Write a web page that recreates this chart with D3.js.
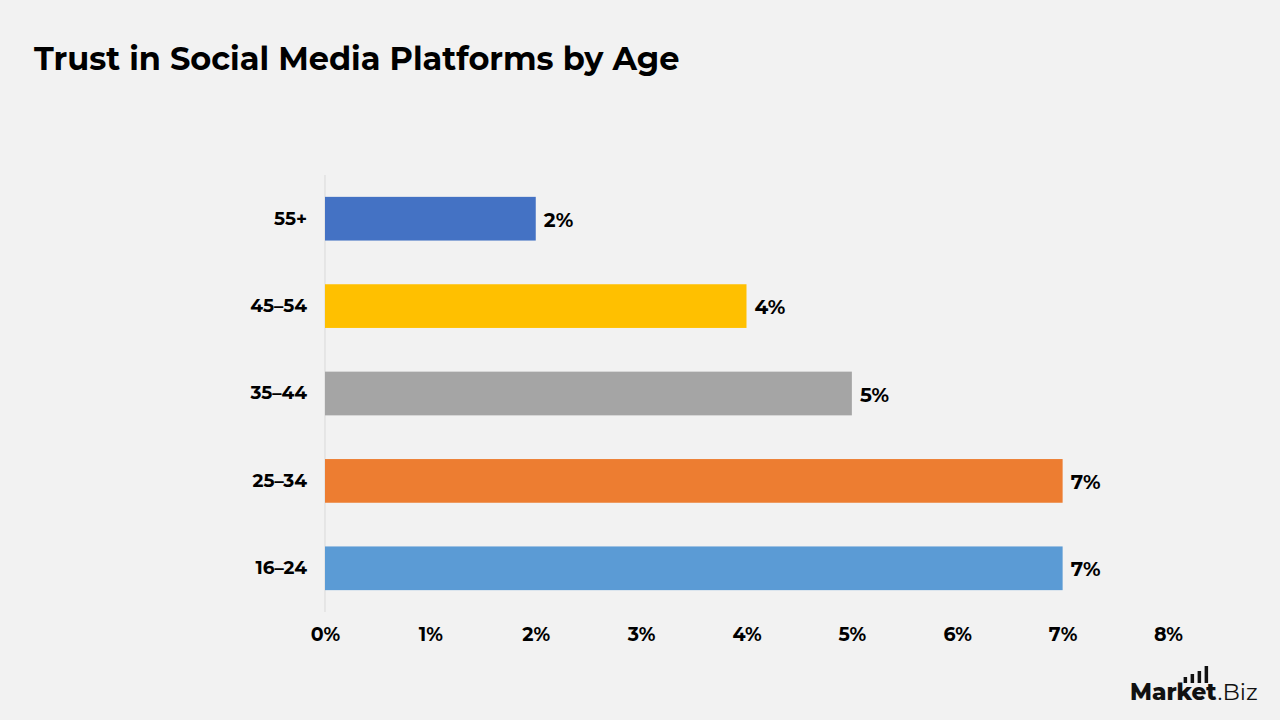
<!DOCTYPE html>
<html>
<head>
<meta charset="utf-8">
<script src="https://cdn.jsdelivr.net/npm/d3@7"></script>
<style>
body { margin: 0; background: #f2f2f2; }
svg text { font-family: "Montserrat", "Lato", "Open Sans", sans-serif; }
</style>
</head>
<body>
<svg class="chart" width="1280" height="720"></svg>
<script>
var ages = ["55+", "45\u201354", "35\u201344", "25\u201334", "16\u201324"];
var trust = [2, 4, 5, 7, 7];
var colors = ["#4472c4", "#ffc000", "#a5a5a5", "#ed7d31", "#5b9bd5"];
var ticks = [0, 1, 2, 3, 4, 5, 6, 7, 8];

var data = ages.map(function(a, i) { return {age: a, value: trust[i], color: colors[i]}; });

var svg = d3.select(".chart");
svg.append("rect").attr("width", 1280).attr("height", 720).attr("fill", "#f2f2f2");

svg.append("text")
  .attr("x", 34).attr("y", 70)
  .attr("font-size", 32).attr("font-weight", 700).attr("fill", "#000")
  .text("Trust in Social Media Platforms by Age");

var x = d3.scaleLinear().domain([0, 8]).range([325, 1168]);
var y = d3.scaleBand().domain(ages).range([175, 612]).paddingInner(0.5).paddingOuter(0.25);

// vertical axis line
svg.append("line")
  .attr("x1", x(0)).attr("x2", x(0))
  .attr("y1", 175).attr("y2", 612)
  .attr("stroke", "#d9d9d9").attr("stroke-width", 1);

svg.selectAll(".bar")
  .data(data)
  .enter().append("rect")
  .attr("class", "bar")
  .attr("x", x(0))
  .attr("y", function(d) { return y(d.age); })
  .attr("width", function(d) { return x(d.value) - x(0); })
  .attr("height", y.bandwidth())
  .attr("fill", function(d) { return d.color; });

svg.selectAll(".val")
  .data(data)
  .enter().append("text")
  .attr("class", "val")
  .attr("x", function(d) { return x(d.value) + 8; })
  .attr("y", function(d) { return y(d.age) + y.bandwidth() / 2 + 1; })
  .attr("dy", "0.35em")
  .attr("font-size", 20).attr("font-weight", 700).attr("fill", "#000")
  .text(function(d) { return d.value + "%"; });

// category labels
svg.append("g")
  .attr("transform", "translate(" + x(0) + ",0)")
  .call(d3.axisLeft(y).tickSize(0).tickPadding(18))
  .call(function(g) {
    g.select(".domain").remove();
    g.selectAll("text").attr("font-size", 18.5).attr("font-weight", 700).attr("fill", "#000")
      .style("font-family", "Montserrat, Lato, 'Open Sans', sans-serif");
  });

// x axis labels
svg.append("g")
  .attr("transform", "translate(0,612)")
  .call(d3.axisBottom(x).tickValues(ticks).tickSize(0).tickPadding(16).tickFormat(function(d) { return d + "%"; }))
  .call(function(g) {
    g.select(".domain").remove();
    g.selectAll("text").attr("font-size", 19).attr("font-weight", 700).attr("fill", "#000")
      .style("font-family", "Montserrat, Lato, 'Open Sans', sans-serif");
  });

// logo
var logo = svg.append("g").attr("transform", "translate(1130,700)");
var m = logo.append("text").attr("x", 0).attr("y", 0)
  .attr("font-size", 23).attr("font-weight", 800).attr("fill", "#111")
  .text("Market");
var mw = m.node().getComputedTextLength();
logo.append("text").attr("x", mw + 1).attr("y", 0)
  .attr("font-size", 23).attr("font-weight", 400).attr("fill", "#111")
  .text(".Biz");
var lb = [6, 9, 12, 17];
lb.forEach(function(h, i) {
  logo.append("rect").attr("x", mw - 33 + i * 7).attr("y", -17 - h).attr("width", 3.5).attr("height", h).attr("fill", "#111");
});
</script>
</body>
</html>
